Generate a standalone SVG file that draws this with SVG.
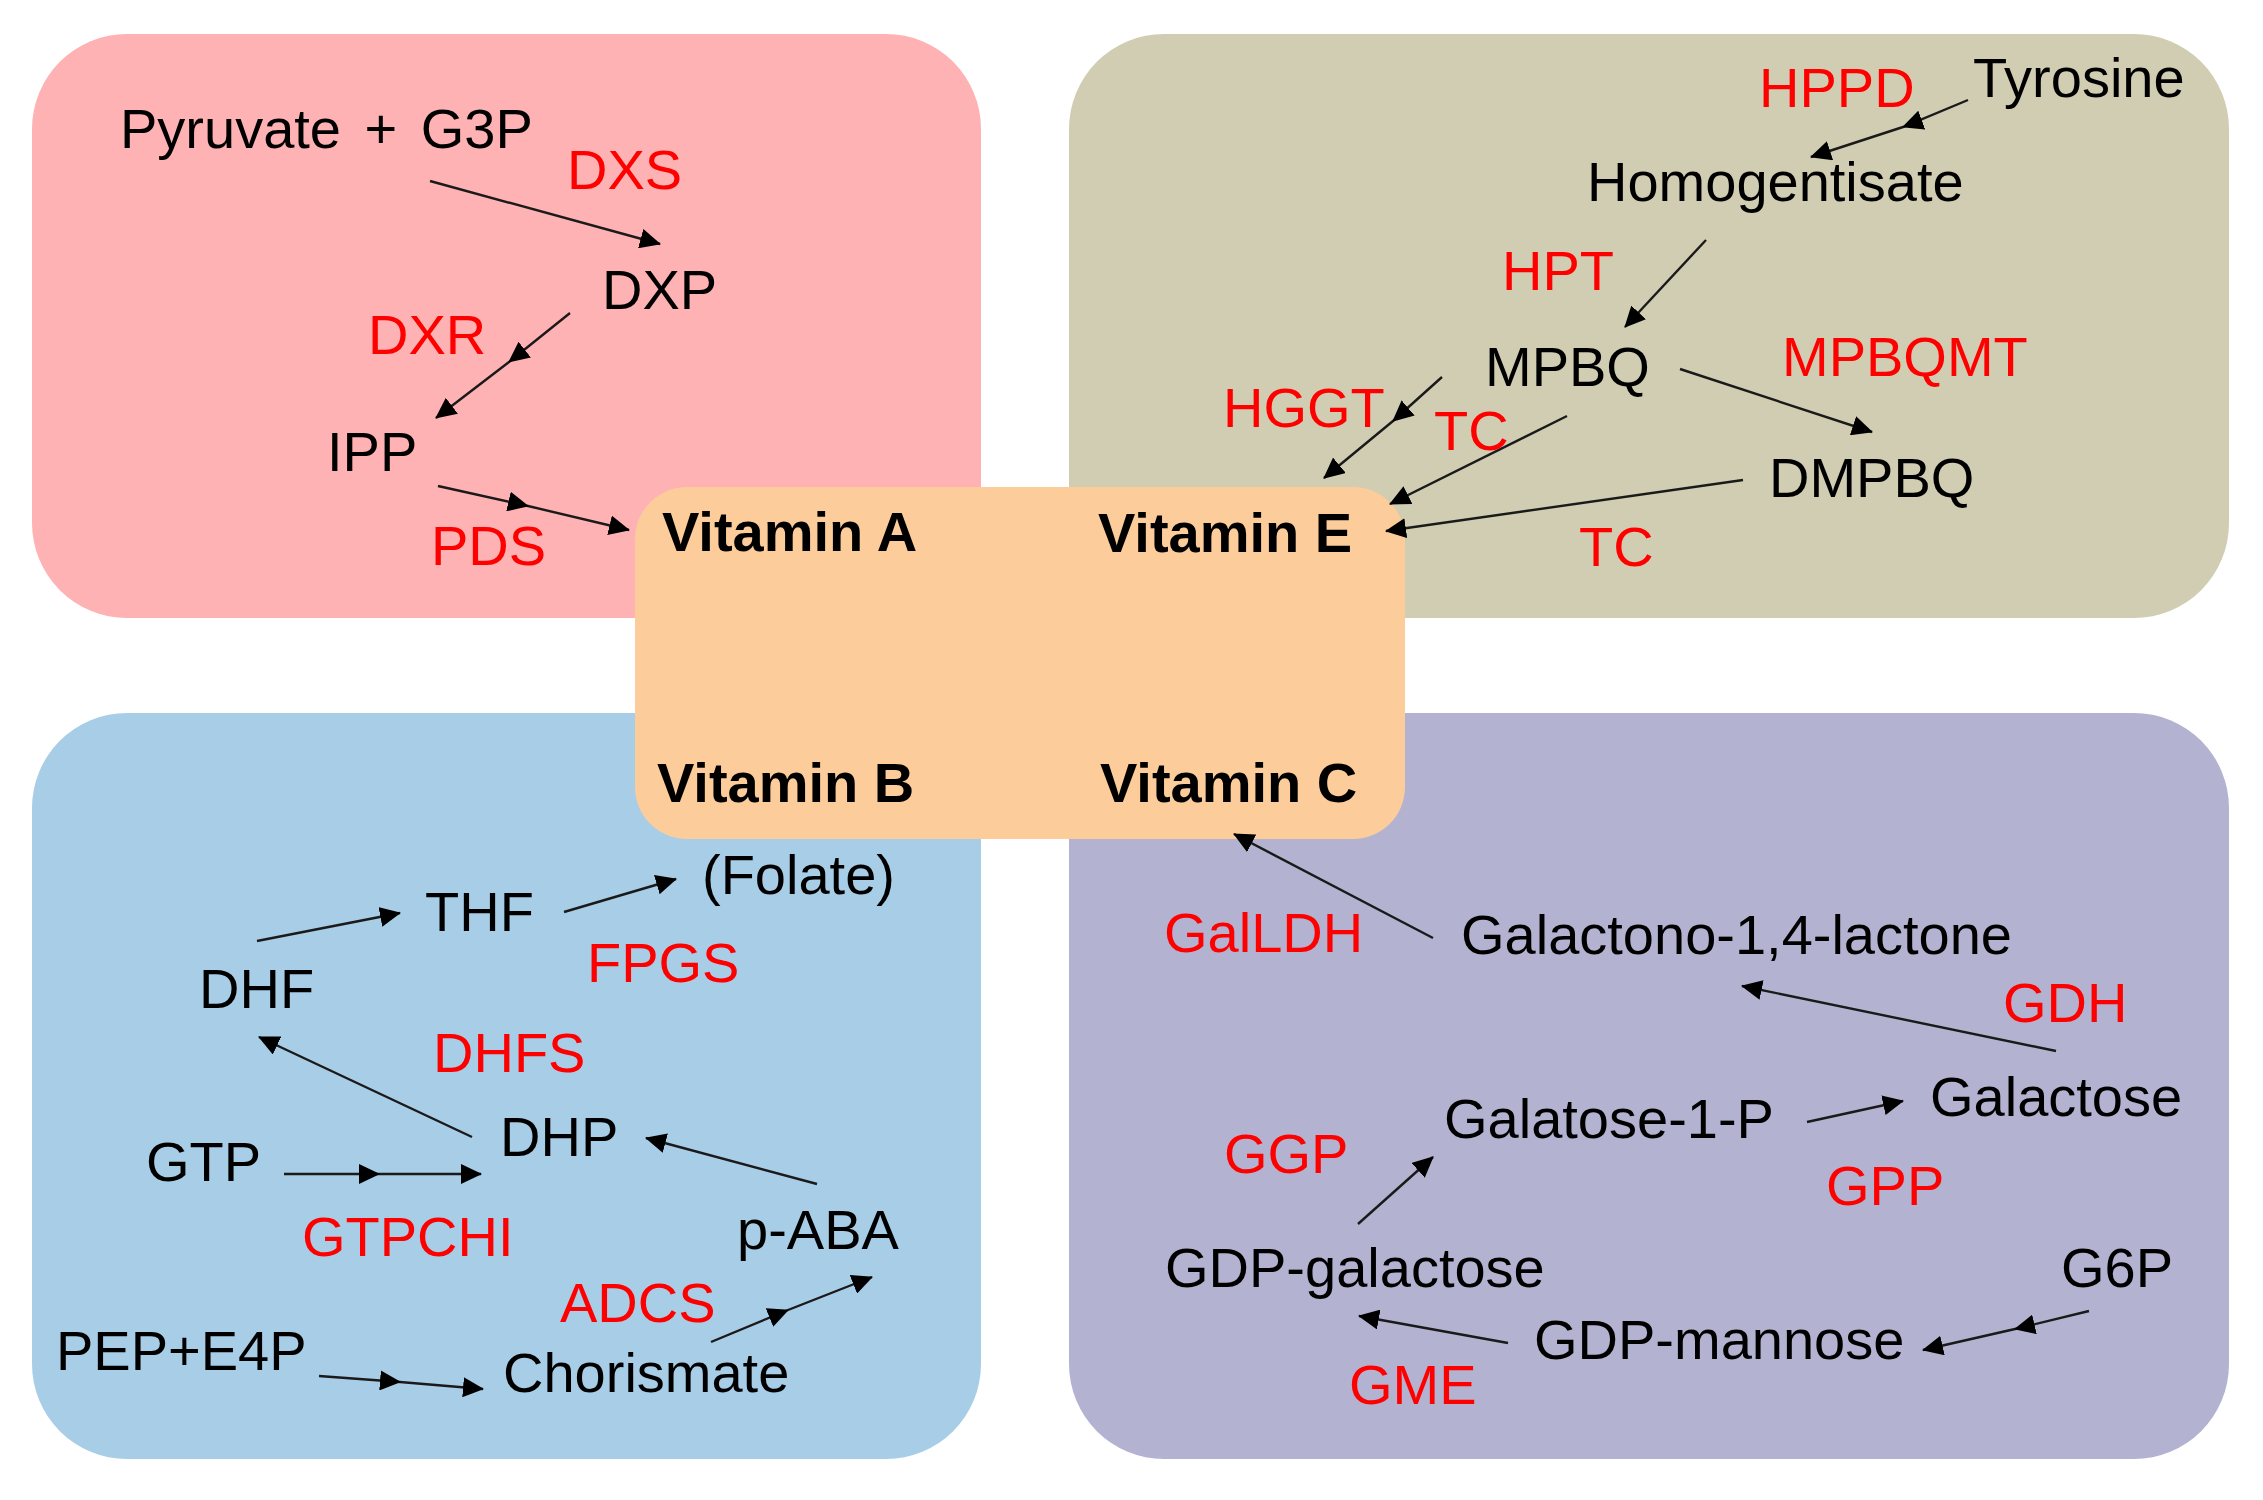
<svg xmlns="http://www.w3.org/2000/svg" width="2263" height="1500" viewBox="0 0 2263 1500">
<style>
text{font-family:"Liberation Sans",Arial,sans-serif;font-size:56px}
.m{fill:#000}
.e{fill:#ff0000}
.v{fill:#000;font-weight:bold}
.c{fill:none;stroke:#1a1a1a;stroke-width:2.4}
</style>
<defs>
<marker id="ah" markerUnits="userSpaceOnUse" markerWidth="21" markerHeight="20" refX="20" refY="10" orient="auto">
<path d="M0,0 L21,10 L0,20 z" fill="#000"/>
</marker>
</defs>
<rect width="2263" height="1500" fill="#fff"/>
<g id="panel-A"><rect x="32" y="34" width="949" height="584" rx="95" ry="95" fill="#feb2b3"/></g>
<g id="panel-E"><rect x="1069" y="34" width="1160" height="584" rx="95" ry="95" fill="#d1cdb2"/></g>
<g id="panel-B"><rect x="32" y="713" width="949" height="746" rx="95" ry="95" fill="#a8cde7"/></g>
<g id="panel-C"><rect x="1069" y="713" width="1160" height="746" rx="95" ry="95" fill="#b3b3d1"/></g>
<g id="vitamins">
<rect x="635" y="487" width="770" height="352" rx="52" ry="52" fill="#fdcc9b"/>
<text class="v" x="662" y="551">Vitamin A</text>
<text class="v" x="1098" y="552">Vitamin E</text>
<text class="v" x="657" y="802">Vitamin B</text>
<text class="v" x="1100" y="802">Vitamin C</text>
</g>
<g id="connectors">
<path class="c" d="M430,181 L660,244" marker-end="url(#ah)"/>
<path class="c" d="M570,313 L509,362 L436,418" marker-mid="url(#ah)" marker-end="url(#ah)"/>
<path class="c" d="M438,486 L528,506 L629,530" marker-mid="url(#ah)" marker-end="url(#ah)"/>
<path class="c" d="M1968,100 L1903,127 L1811,157" marker-mid="url(#ah)" marker-end="url(#ah)"/>
<path class="c" d="M1706,240 L1625,327" marker-end="url(#ah)"/>
<path class="c" d="M1680,369 L1872,432" marker-end="url(#ah)"/>
<path class="c" d="M1442,377 L1393,421 L1324,478" marker-mid="url(#ah)" marker-end="url(#ah)"/>
<path class="c" d="M1567,416 L1390,504" marker-end="url(#ah)"/>
<path class="c" d="M1743,480 L1386,531" marker-end="url(#ah)"/>
<path class="c" d="M257,941 L400,913" marker-end="url(#ah)"/>
<path class="c" d="M564,912 L676,879" marker-end="url(#ah)"/>
<path class="c" d="M472,1137 L259,1037" marker-end="url(#ah)"/>
<path class="c" d="M284,1174 L379,1174 L481,1174" marker-mid="url(#ah)" marker-end="url(#ah)"/>
<path class="c" d="M817,1184 L646,1138" marker-end="url(#ah)"/>
<path class="c" d="M711,1342 L788,1310 L872,1277" marker-mid="url(#ah)" marker-end="url(#ah)"/>
<path class="c" d="M319,1376 L400,1382 L483,1389" marker-mid="url(#ah)" marker-end="url(#ah)"/>
<path class="c" d="M1433,938 L1234,834" marker-end="url(#ah)"/>
<path class="c" d="M2056,1051 L1742,986" marker-end="url(#ah)"/>
<path class="c" d="M1807,1122 L1903,1101" marker-end="url(#ah)"/>
<path class="c" d="M1358,1224 L1433,1157" marker-end="url(#ah)"/>
<path class="c" d="M2089,1311 L2015,1329 L1923,1350" marker-mid="url(#ah)" marker-end="url(#ah)"/>
<path class="c" d="M1508,1343 L1359,1316" marker-end="url(#ah)"/>
</g>
<g id="n-pyruvate"><text class="m" x="120" y="148" style="word-spacing:8px">Pyruvate + G3P</text></g>
<g id="e-dxs"><text class="e" x="567" y="189">DXS</text></g>
<g id="n-dxp"><text class="m" x="602" y="309">DXP</text></g>
<g id="e-dxr"><text class="e" x="368" y="354">DXR</text></g>
<g id="n-ipp"><text class="m" x="327" y="471">IPP</text></g>
<g id="e-pds"><text class="e" x="431" y="565">PDS</text></g>
<g id="n-tyrosine"><text class="m" x="1973" y="97">Tyrosine</text></g>
<g id="e-hppd"><text class="e" x="1759" y="107">HPPD</text></g>
<g id="n-homogentisate"><text class="m" x="1587" y="201">Homogentisate</text></g>
<g id="e-hpt"><text class="e" x="1502" y="290">HPT</text></g>
<g id="n-mpbq"><text class="m" x="1485" y="386">MPBQ</text></g>
<g id="e-mpbqmt"><text class="e" x="1782" y="376">MPBQMT</text></g>
<g id="n-dmpbq"><text class="m" x="1769" y="497">DMPBQ</text></g>
<g id="e-hggt"><text class="e" x="1223" y="427">HGGT</text></g>
<g id="e-tc1"><text class="e" x="1434" y="450">TC</text></g>
<g id="e-tc2"><text class="e" x="1579" y="566">TC</text></g>
<g id="n-folate"><text class="m" x="702" y="894">(Folate)</text></g>
<g id="n-thf"><text class="m" x="425" y="931">THF</text></g>
<g id="e-fpgs"><text class="e" x="587" y="982">FPGS</text></g>
<g id="n-dhf"><text class="m" x="199" y="1008">DHF</text></g>
<g id="e-dhfs"><text class="e" x="433" y="1072">DHFS</text></g>
<g id="n-dhp"><text class="m" x="500" y="1156">DHP</text></g>
<g id="n-gtp"><text class="m" x="146" y="1181">GTP</text></g>
<g id="e-gtpchi"><text class="e" x="302" y="1256">GTPCHI</text></g>
<g id="n-paba"><text class="m" x="737" y="1249">p-ABA</text></g>
<g id="e-adcs"><text class="e" x="560" y="1322">ADCS</text></g>
<g id="n-pep"><text class="m" x="56" y="1370">PEP+E4P</text></g>
<g id="n-chorismate"><text class="m" x="503" y="1392">Chorismate</text></g>
<g id="e-galldh"><text class="e" x="1164" y="952">GalLDH</text></g>
<g id="n-galactono"><text class="m" x="1461" y="954">Galactono-1,4-lactone</text></g>
<g id="e-gdh"><text class="e" x="2003" y="1022">GDH</text></g>
<g id="n-galactose"><text class="m" x="1930" y="1116">Galactose</text></g>
<g id="n-gal1p"><text class="m" x="1444" y="1138">Galatose-1-P</text></g>
<g id="e-ggp"><text class="e" x="1224" y="1173">GGP</text></g>
<g id="e-gpp"><text class="e" x="1826" y="1205">GPP</text></g>
<g id="n-gdpgal"><text class="m" x="1165" y="1287">GDP-galactose</text></g>
<g id="n-g6p"><text class="m" x="2061" y="1287">G6P</text></g>
<g id="n-gdpman"><text class="m" x="1534" y="1359">GDP-mannose</text></g>
<g id="e-gme"><text class="e" x="1349" y="1404">GME</text></g>
</svg>
